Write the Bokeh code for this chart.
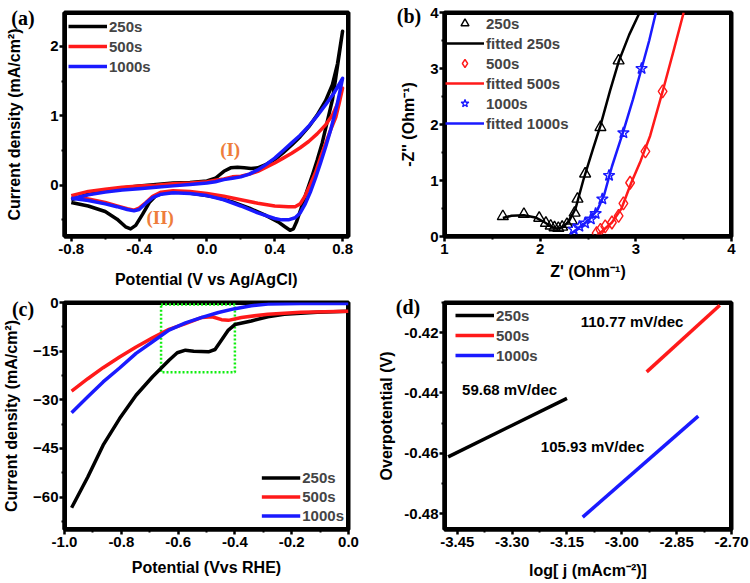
from bokeh.plotting import figure
from bokeh.layouts import gridplot, column
from bokeh.models import Range1d, FixedTicker, Legend, LegendItem, Label, Div
from bokeh.embed import file_html
from bokeh.resources import INLINE

FONT = "Liberation Sans"
SERIF = "Liberation Serif"
BLACK, RED, BLUE = "#000000", "#ff1a1a", "#1a1aff"
ORANGE = "#ee7d3b"
GREEN = "#11ee11"

series_names = ["250s", "500s", "1000s"]
panel_names = ["(a)", "(b)", "(c)", "(d)"]

# ---- (a) cyclic voltammograms: anodic sweep then cathodic sweep ----
cv_250_fwd_v = [-0.80, -0.70, -0.60, -0.50, -0.40, -0.30, -0.20, -0.10, 0.00, 0.05, 0.10, 0.14, 0.18, 0.22,
                0.26, 0.30, 0.35, 0.40, 0.45, 0.50, 0.55, 0.60, 0.65, 0.70, 0.74, 0.77, 0.80]
cv_250_fwd_j = [-0.21, -0.13, -0.08, -0.04, -0.01, 0.01, 0.03, 0.04, 0.06, 0.10, 0.20, 0.25, 0.26, 0.25,
                0.24, 0.25, 0.30, 0.37, 0.47, 0.58, 0.70, 0.84, 1.01, 1.22, 1.45, 1.75, 2.22]
cv_250_rev_v = [0.80, 0.78, 0.76, 0.74, 0.71, 0.68, 0.65, 0.62, 0.59, 0.56, 0.53, 0.51, 0.49, 0.46, 0.42,
                0.35, 0.25, 0.15, 0.05, -0.05, -0.15, -0.25, -0.30, -0.34, -0.38, -0.42, -0.45, -0.48,
                -0.53, -0.60, -0.70, -0.80]
cv_250_rev_j = [2.22, 1.88, 1.55, 1.23, 0.92, 0.61, 0.36, 0.13, -0.08, -0.30, -0.52, -0.63, -0.65, -0.60,
                -0.53, -0.44, -0.33, -0.24, -0.17, -0.13, -0.10, -0.11, -0.15, -0.25, -0.42, -0.58, -0.63,
                -0.60, -0.49, -0.38, -0.30, -0.25]

cv_500_fwd_v = [-0.80, -0.70, -0.60, -0.50, -0.40, -0.30, -0.20, -0.10, 0.00, 0.05, 0.10, 0.15, 0.20, 0.25,
                0.30, 0.35, 0.40, 0.45, 0.50, 0.55, 0.60, 0.65, 0.70, 0.74, 0.77, 0.80]
cv_500_fwd_j = [-0.15, -0.09, -0.06, -0.03, -0.01, 0.00, 0.02, 0.03, 0.05, 0.07, 0.09, 0.12, 0.13, 0.16,
                0.20, 0.26, 0.32, 0.39, 0.46, 0.54, 0.63, 0.74, 0.87, 1.01, 1.17, 1.40]
cv_500_rev_v = [0.80, 0.78, 0.76, 0.73, 0.70, 0.67, 0.64, 0.61, 0.58, 0.55, 0.52, 0.48, 0.40, 0.30, 0.20,
                0.10, 0.00, -0.10, -0.20, -0.27, -0.32, -0.36, -0.40, -0.43, -0.47, -0.53, -0.60, -0.70,
                -0.80]
cv_500_rev_j = [1.40, 1.18, 0.98, 0.80, 0.60, 0.40, 0.18, 0.01, -0.15, -0.27, -0.31, -0.31, -0.30, -0.26,
                -0.21, -0.16, -0.12, -0.09, -0.08, -0.10, -0.16, -0.25, -0.33, -0.36, -0.34, -0.30, -0.25,
                -0.20, -0.17]

cv_1000_fwd_v = [-0.80, -0.70, -0.60, -0.50, -0.40, -0.30, -0.20, -0.10, 0.00, 0.05, 0.10, 0.15, 0.20, 0.25,
                 0.30, 0.35, 0.40, 0.45, 0.50, 0.55, 0.60, 0.65, 0.70, 0.75, 0.80]
cv_1000_fwd_j = [-0.20, -0.14, -0.10, -0.07, -0.05, -0.03, -0.01, 0.01, 0.03, 0.05, 0.08, 0.10, 0.12, 0.16,
                 0.22, 0.30, 0.39, 0.50, 0.61, 0.72, 0.85, 1.00, 1.16, 1.33, 1.54]
cv_1000_rev_v = [0.80, 0.78, 0.76, 0.73, 0.70, 0.67, 0.64, 0.61, 0.58, 0.55, 0.52, 0.48, 0.44, 0.40, 0.30,
                 0.20, 0.10, 0.00, -0.10, -0.20, -0.27, -0.32, -0.36, -0.40, -0.43, -0.47, -0.53, -0.60,
                 -0.70, -0.80]
cv_1000_rev_j = [1.54, 1.30, 1.08, 0.80, 0.55, 0.32, 0.10, -0.10, -0.27, -0.40, -0.47, -0.50, -0.50, -0.48,
                 -0.40, -0.30, -0.21, -0.15, -0.12, -0.11, -0.13, -0.18, -0.26, -0.35, -0.37, -0.35, -0.31,
                 -0.27, -0.22, -0.19]

# ---- (b) Nyquist data and fitted curves ----
eis_250_zr = [1.61, 1.83, 1.99, 2.06, 2.11, 2.15, 2.19, 2.23, 2.28, 2.33, 2.36, 2.39, 2.47, 2.63, 2.82]
eis_250_zi = [0.36, 0.40, 0.33, 0.24, 0.19, 0.16, 0.15, 0.17, 0.22, 0.28, 0.42, 0.67, 1.12, 1.95, 3.14]
fit_250_zr = [1.61, 1.70, 1.83, 1.95, 2.05, 2.12, 2.18, 2.24, 2.30, 2.37, 2.45, 2.55, 2.63, 2.73, 2.82,
              2.93, 3.04]
fit_250_zi = [0.33, 0.37, 0.38, 0.34, 0.25, 0.17, 0.14, 0.17, 0.27, 0.50, 1.00, 1.55, 1.98, 2.60, 3.12,
              3.60, 4.00]

eis_500_zr = [2.59, 2.63, 2.68, 2.75, 2.82, 2.87, 2.94, 3.10, 3.28]
eis_500_zi = [0.06, 0.12, 0.18, 0.25, 0.37, 0.59, 0.96, 1.52, 2.59]
fit_500_zr = [2.58, 2.65, 2.75, 2.85, 2.95, 3.05, 3.15, 3.28, 3.40, 3.50]
fit_500_zi = [0.00, 0.10, 0.25, 0.50, 0.95, 1.35, 1.80, 2.59, 3.35, 4.00]

eis_1000_zr = [2.35, 2.41, 2.47, 2.53, 2.58, 2.65, 2.72, 2.87, 3.06]
eis_1000_zi = [0.13, 0.18, 0.24, 0.31, 0.41, 0.67, 1.09, 1.85, 3.00]
fit_1000_zr = [2.31, 2.40, 2.50, 2.60, 2.67, 2.75, 2.87, 2.97, 3.06, 3.14, 3.21]
fit_1000_zi = [0.03, 0.15, 0.28, 0.48, 0.75, 1.25, 1.88, 2.45, 3.00, 3.50, 4.00]

# ---- (c) linear sweep voltammetry ----
lsv_250_v = [-0.975, -0.918, -0.864, -0.806, -0.748, -0.690, -0.632, -0.603, -0.574, -0.545, -0.493,
             -0.470, -0.447, -0.423, -0.400, -0.342, -0.284, -0.226, -0.110, 0.000]
lsv_250_j = [-63.3, -53.8, -44.0, -35.8, -28.6, -22.9, -17.8, -15.5, -14.7, -15.0, -15.2, -14.5, -11.6,
             -8.5, -6.8, -5.7, -4.4, -3.6, -3.0, -2.7]
lsv_500_v = [-0.975, -0.918, -0.864, -0.806, -0.748, -0.690, -0.632, -0.574, -0.516, -0.480, -0.447,
             -0.423, -0.377, -0.284, -0.168, 0.000]
lsv_500_j = [-27.3, -23.5, -20.1, -16.8, -13.7, -10.9, -8.3, -6.5, -4.6, -4.4, -5.3, -5.5, -4.6, -3.6,
             -3.0, -2.7]
lsv_1000_v = [-0.975, -0.918, -0.864, -0.806, -0.748, -0.690, -0.632, -0.574, -0.516, -0.458, -0.400,
              -0.342, -0.284, -0.168, 0.000]
lsv_1000_j = [-34.0, -29.1, -24.5, -20.2, -15.7, -12.1, -8.5, -6.3, -4.6, -3.1, -1.9, -1.0, -0.5, -0.3,
              -0.3]
zoom_box = [-0.66, -0.40, -21.5, -0.6]   # left, right, bottom, top

# ---- (d) Tafel fits ----
tafel_250_x = [-3.475, -3.150]
tafel_250_y = [-0.4612, -0.4418]
tafel_500_x = [-2.932, -2.732]
tafel_500_y = [-0.4330, -0.4109]
tafel_1000_x = [-3.107, -2.791]
tafel_1000_y = [-0.4812, -0.4477]
tafel_labels = ["59.68 mV/dec", "110.77 mV/dec", "105.93 mV/dec"]


def make_panel(w, h, xr, yr, borders, xticks, xminor, yticks, yminor, xlabel, ylabel,
               xstand, ystand, xfmt=None, yfmt=None):
    left, right, top, bottom = borders
    p = figure(width=w, height=h, x_range=Range1d(*xr), y_range=Range1d(*yr),
               output_backend="svg", toolbar_location=None,
               min_border_left=left, min_border_right=right,
               min_border_top=top, min_border_bottom=bottom)
    p.grid.visible = False
    p.border_fill_color = None
    p.background_fill_color = None
    p.outline_line_color = "black"
    p.outline_line_width = 4
    p.xaxis.ticker = FixedTicker(ticks=xticks, minor_ticks=xminor)
    p.yaxis.ticker = FixedTicker(ticks=yticks, minor_ticks=yminor)
    if xfmt:
        p.xaxis.major_label_overrides = {t: xfmt.format(t) for t in xticks}
    if yfmt:
        p.yaxis.major_label_overrides = {t: yfmt.format(t) for t in yticks}
    for ax in (p.xaxis[0], p.yaxis[0]):
        ax.axis_line_width = 4
        ax.axis_line_color = "black"
        ax.major_tick_line_width = 2.5
        ax.major_tick_line_color = "black"
        ax.minor_tick_line_width = 2
        ax.minor_tick_line_color = "black"
        ax.major_tick_out = 5
        ax.major_tick_in = 0
        ax.minor_tick_out = 3
        ax.minor_tick_in = 0
        ax.major_label_text_font = FONT
        ax.major_label_text_font_style = "bold"
        ax.major_label_text_font_size = "15px"
        ax.major_label_text_color = "black"
        ax.axis_label_text_font = FONT
        ax.axis_label_text_font_style = "bold"
        ax.axis_label_text_font_size = "16px"
        ax.axis_label_text_color = "black"
    p.xaxis.major_label_standoff = 2
    p.yaxis.major_label_standoff = 1
    p.xaxis.axis_label = xlabel
    p.yaxis.axis_label = ylabel
    p.xaxis.axis_label_standoff = xstand
    p.yaxis.axis_label_standoff = ystand
    # heavy box on the plotting area edge, drawn as a glyph so its inner half shows
    p.quad(left=[xr[0]], right=[xr[1]], bottom=[yr[0]], top=[yr[1]],
           fill_color=None, line_color="black", line_width=5)
    return p


def style_legend(lg, location, margin, padding):
    lg.location = location
    lg.margin = margin
    lg.padding = padding
    lg.spacing = 0
    lg.background_fill_color = None
    lg.border_line_color = None
    lg.label_text_font = FONT
    lg.label_text_font_style = "bold"
    lg.label_text_font_size = "15px"
    lg.glyph_width = 39
    lg.glyph_height = 20
    lg.label_height = 20
    lg.label_standoff = 2


# ---------------- (a) ----------------
pa = make_panel(375, 290, (-0.84, 0.835), (-0.74, 2.49), (61, 26, 12, 52),
                [-0.8, -0.4, 0.0, 0.4, 0.8], [-0.6, -0.2, 0.2, 0.6],
                [0, 1, 2], [-0.5, 0.5, 1.5],
                "Potential (V vs Ag/AgCl)", "Current density (mA/cm²)", 14, 24,
                xfmt="{:.1f}")
cv_sets = [(cv_250_fwd_v + cv_250_rev_v, cv_250_fwd_j + cv_250_rev_j, BLACK),
           (cv_500_fwd_v + cv_500_rev_v, cv_500_fwd_j + cv_500_rev_j, RED),
           (cv_1000_fwd_v + cv_1000_rev_v, cv_1000_fwd_j + cv_1000_rev_j, BLUE)]
ra = []
for xs, ys, c in cv_sets:
    ra.append(pa.line(xs, ys, line_color=c, line_width=3.5, line_join="round"))
lga = Legend(items=[LegendItem(label=n, renderers=[r]) for n, r in zip(series_names, ra)])
style_legend(lga, "top_left", 4, 2)
pa.add_layout(lga)
pa.add_layout(Label(x=0.137, y=0.51, text="(I)", text_font=SERIF, text_font_style="bold",
                    text_font_size="19px", text_color=ORANGE, text_align="center",
                    text_baseline="middle"))
pa.add_layout(Label(x=-0.276, y=-0.47, text="(II)", text_font=SERIF, text_font_style="bold",
                    text_font_size="19px", text_color=ORANGE, text_align="center",
                    text_baseline="middle"))

# ---------------- (b) ----------------
pb = make_panel(375, 290, (1, 4), (0, 4), (69, 19, 11, 53),
                [1, 2, 3, 4], [1.5, 2.5, 3.5], [0, 1, 2, 3, 4], [0.5, 1.5, 2.5, 3.5],
                "Z' (Ohm⁻¹)", "-Z'' (Ohm⁻¹)", 6, 10)
s250 = pb.scatter(eis_250_zr, eis_250_zi, marker="triangle", size=11, fill_color=None,
                  line_color=BLACK, line_width=1.4)
f250 = pb.line(fit_250_zr, fit_250_zi, line_color=BLACK, line_width=2.5)
s500 = pb.scatter(eis_500_zr, eis_500_zi, marker="diamond", size=13, fill_color=None,
                  line_color=RED, line_width=1.4)
f500 = pb.line(fit_500_zr, fit_500_zi, line_color=RED, line_width=2.5)
s1000 = pb.scatter(eis_1000_zr, eis_1000_zi, marker="star", size=12, fill_color=None,
                   line_color=BLUE, line_width=1.4)
f1000 = pb.line(fit_1000_zr, fit_1000_zi, line_color=BLUE, line_width=2.5)
lgb = Legend(items=[LegendItem(label="250s", renderers=[s250]),
                    LegendItem(label="fitted 250s", renderers=[f250]),
                    LegendItem(label="500s", renderers=[s500]),
                    LegendItem(label="fitted 500s", renderers=[f500]),
                    LegendItem(label="1000s", renderers=[s1000]),
                    LegendItem(label="fitted 1000s", renderers=[f1000])])
style_legend(lgb, "top_left", 1, 2)
pb.add_layout(lgb)

# ---------------- (c) ----------------
pc = make_panel(375, 293, (-1.0, 0.0), (-70, 0), (61, 27, 12, 54),
                [-1.0, -0.8, -0.6, -0.4, -0.2, 0.0], [-0.9, -0.7, -0.5, -0.3, -0.1],
                [-60, -45, -30, -15, 0], [-67.5, -52.5, -37.5, -22.5, -7.5],
                "Potential (Vvs RHE)", "Current density (mA/cm²)", 9, 10, xfmt="{:.1f}")
# dotted box round the region of the reduction plateau
pc.quad(left=[zoom_box[0]], right=[zoom_box[1]], bottom=[zoom_box[2]], top=[zoom_box[3]],
        fill_color=None, line_color=GREEN, line_width=2.5, line_dash="2 2")
rc = []
for xs, ys, c in [(lsv_250_v, lsv_250_j, BLACK), (lsv_500_v, lsv_500_j, RED),
                  (lsv_1000_v, lsv_1000_j, BLUE)]:
    rc.append(pc.line(xs, ys, line_color=c, line_width=3.5, line_join="round"))
lgc = Legend(items=[LegendItem(label=n, renderers=[r]) for n, r in zip(series_names, rc)])
style_legend(lgc, "bottom_right", 4, 3)
lgc.label_height = 19
lgc.glyph_height = 19
pc.add_layout(lgc)

# ---------------- (d) ----------------
pd_ = make_panel(375, 293, (-3.485, -2.70), (-0.4853, -0.410), (68, 17, 12, 54),
                 [-3.45, -3.30, -3.15, -3.00, -2.85, -2.70],
                 [-3.375, -3.225, -3.075, -2.925, -2.775],
                 [-0.48, -0.46, -0.44, -0.42], [-0.47, -0.45, -0.43, -0.41],
                 "log[ j (mAcm⁻²)]", "Overpotential (V)", 12, 6,
                 xfmt="{:.2f}", yfmt="{:.2f}")
rd = []
for xs, ys, c in [(tafel_250_x, tafel_250_y, BLACK), (tafel_500_x, tafel_500_y, RED),
                  (tafel_1000_x, tafel_1000_y, BLUE)]:
    rd.append(pd_.line(xs, ys, line_color=c, line_width=3.5))
lgd = Legend(items=[LegendItem(label=n, renderers=[r]) for n, r in zip(series_names, rd)])
style_legend(lgd, "top_left", 0, 0)
lgd.location = (11, 164)
pd_.add_layout(lgd)
for (tx, ty), t in zip([(-3.307, -0.4389), (-2.972, -0.4164), (-3.080, -0.4578)], tafel_labels):
    pd_.add_layout(Label(x=tx, y=ty, text=t, text_font=FONT, text_font_style="bold",
                         text_font_size="15px", text_color="black", text_align="center",
                         text_baseline="middle"))

grid = gridplot([[pa, pb], [pc, pd_]], toolbar_location=None)

# panel letters sit outside the plotting frames, so they go in an overlay block
tag_centres = [(18, 13), (404, 11), (18, 304), (403, 302)]
spans = "".join(
    f"<span style=\"position:absolute;left:{cx}px;top:{cy - 583}px;transform:translate(-50%,-50%);"
    f"font-family:'{SERIF}';font-weight:bold;font-size:20px;line-height:20px;color:black;"
    f"white-space:nowrap;z-index:10\">{t}</span>"
    for t, (cx, cy) in zip(panel_names, tag_centres))
tags = Div(text=spans, width=750, height=0,
           styles={"overflow": "visible", "position": "relative"},
           stylesheets=[":host { overflow: visible !important; } "
                        ".bk-clearfix { overflow: visible !important; }"])

page = column(grid, tags, spacing=0)
open("out.html", "w").write(file_html(page, INLINE))
